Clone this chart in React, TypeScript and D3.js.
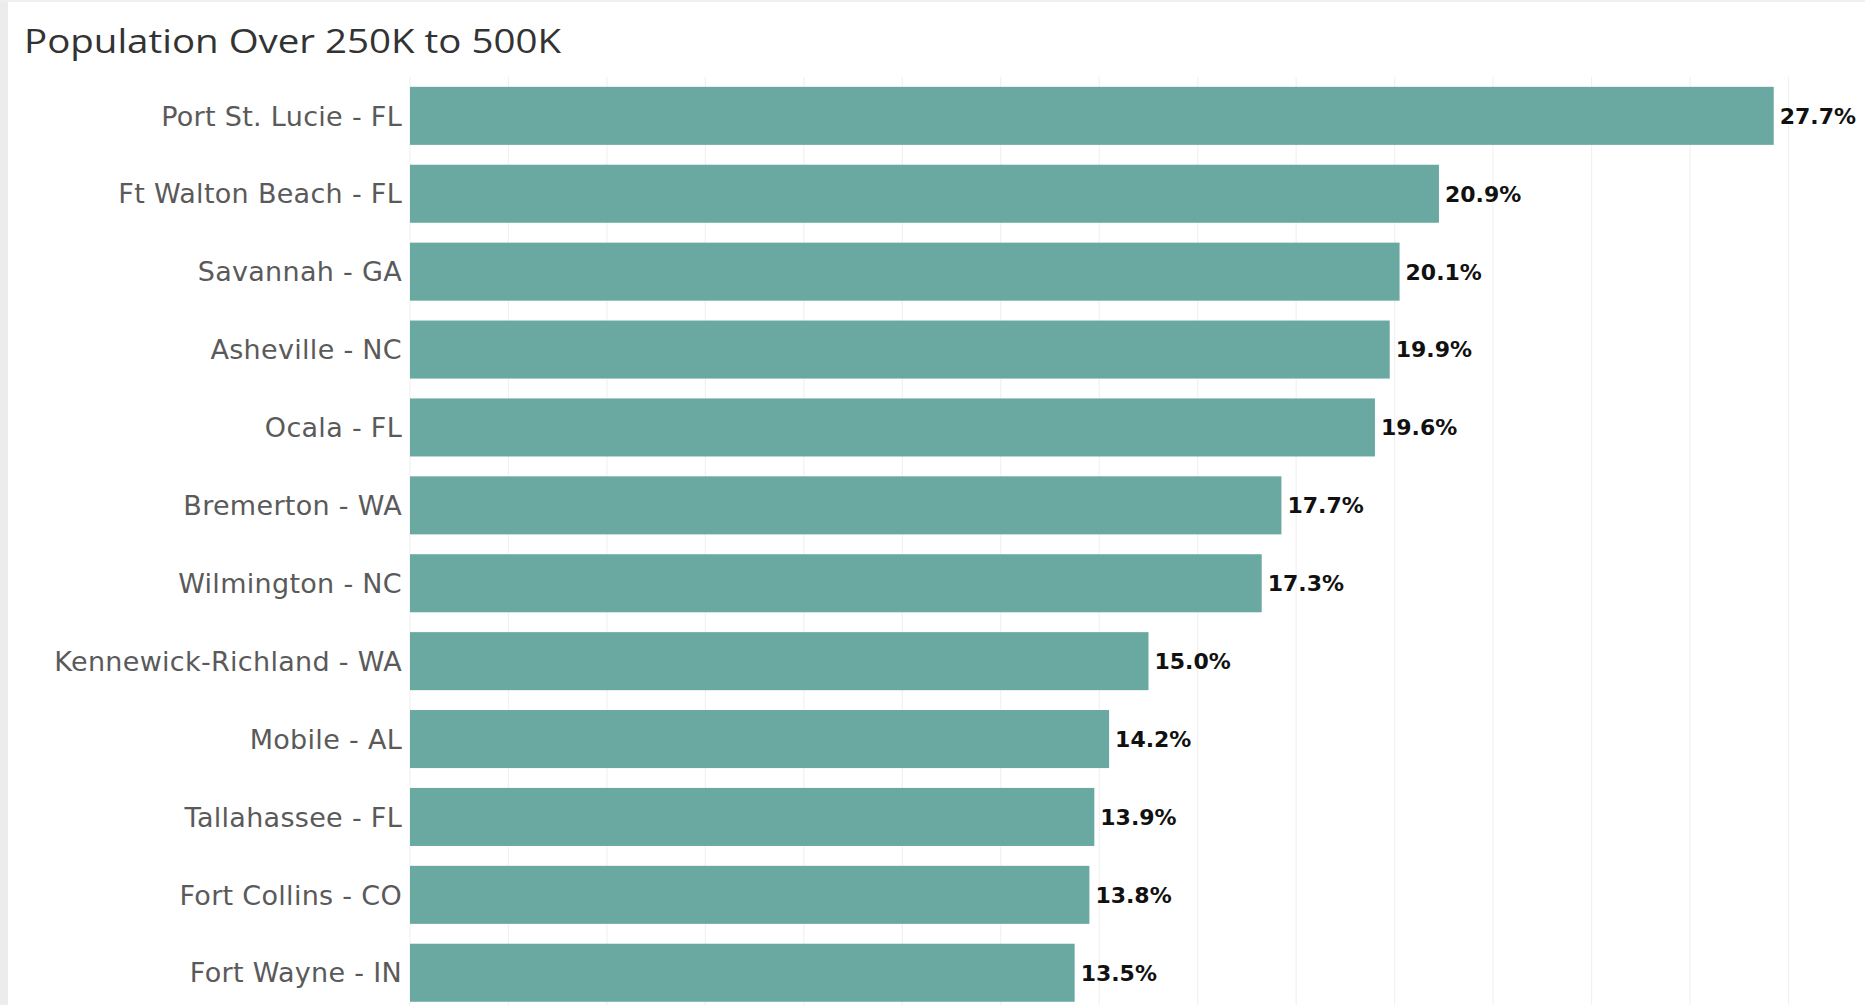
import React from "react";
import * as d3 from "d3";

const categories = [
  "Port St. Lucie - FL",
  "Ft Walton Beach - FL",
  "Savannah - GA",
  "Asheville - NC",
  "Ocala - FL",
  "Bremerton - WA",
  "Wilmington - NC",
  "Kennewick-Richland - WA",
  "Mobile - AL",
  "Tallahassee - FL",
  "Fort Collins - CO",
  "Fort Wayne - IN",
];
const values = [27.7, 20.9, 20.1, 19.9, 19.6, 17.7, 17.3, 15.0, 14.2, 13.9, 13.8, 13.5];
const gridTicks = [0, 2, 4, 6, 8, 10, 12, 14, 16, 18, 20, 22, 24, 26, 28];
const title = "Population Over 250K to 500K";

const W = 1865;
const H = 1005;
const FONT = "'Open Sans', 'DejaVu Sans', sans-serif";
const LABEL_FONT = "'DejaVu Sans', 'Open Sans', sans-serif";

export default function App() {
  const x = d3.scaleLinear().domain([0, 28]).range([410, 1788.5]);
  const y = d3
    .scaleBand<string>()
    .domain(categories)
    .range([76.9, 76.9 + 77.9 * 12])
    .paddingInner(0.255)
    .paddingOuter(0.1275);
  const fmt = (v: number) => d3.format(".1f")(v) + "%";

  return (
    <svg
      width={W}
      height={H}
      style={{ position: "absolute", left: 0, top: 0, background: "#ffffff" }}
    >
      <rect x={0} y={0} width={W} height={H} fill="#ffffff" />
      <rect x={0} y={0} width={8} height={H} fill="#ececec" />
      <rect x={0} y={0} width={W} height={2} fill="#efefef" />
      <text
        x={24}
        y={53}
        fontFamily={FONT}
        fontSize={33}
        fontWeight={500}
        fill="#333333"
        textLength={537}
        lengthAdjust="spacingAndGlyphs"
      >
        {title}
      </text>
      <g>
        {gridTicks.map((t) => (
          <line
            key={t}
            x1={x(t)}
            x2={x(t)}
            y1={77}
            y2={H}
            stroke="#f1f1f1"
            strokeWidth={1.2}
          />
        ))}
      </g>
      <g>
        {categories.map((c, i) => (
          <rect
            key={c}
            x={x(0)}
            y={y(c)}
            width={x(values[i]) - x(0)}
            height={y.bandwidth()}
            fill="#69a9a2"
          />
        ))}
      </g>
      <g>
        {categories.map((c) => (
          <text
            key={c}
            x={402}
            y={(y(c) as number) + y.bandwidth() / 2}
            dy="0.36em"
            textAnchor="end"
            fontFamily={LABEL_FONT}
            fontSize={27}
            letterSpacing={0.3}
            fill="#5a5a5a"
          >
            {c}
          </text>
        ))}
      </g>
      <g>
        {categories.map((c, i) => (
          <text
            key={c}
            x={x(values[i]) + 6}
            y={(y(c) as number) + y.bandwidth() / 2}
            dy="0.36em"
            fontFamily={LABEL_FONT}
            fontSize={22}
            fontWeight={600}
            fill="#111111"
          >
            {fmt(values[i])}
          </text>
        ))}
      </g>
    </svg>
  );
}
